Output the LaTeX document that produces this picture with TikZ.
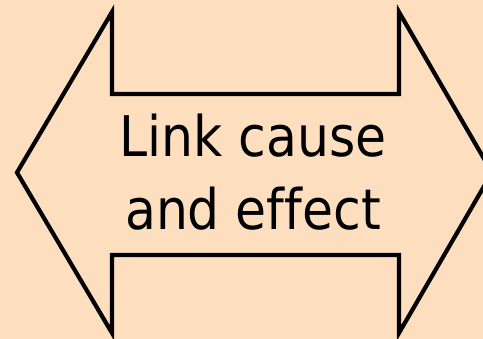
\documentclass[tikz,border=0pt]{standalone}
\usepackage{fontspec}
\setmainfont{DejaVu Sans Condensed}[Ligatures=NoCommon]
\definecolor{peach}{RGB}{253,223,192}
\begin{document}
\begin{tikzpicture}[x=1pt,y=-1pt,
  arrowshape/.style={draw=black,line width=4.2pt,line join=miter,fill=peach},
  label/.style={font=\fontsize{56}{60}\selectfont,anchor=base,inner sep=0pt}]
\fill[peach] (0,0) rectangle (483,339);
\useasboundingbox (0,0) rectangle (483,339);
\begin{scope}
\clip (0,0) rectangle (483,339);
\draw[arrowshape] (17,172.5) -- (112,12) -- (112,94) -- (399,94) -- (399,12)
  -- (492,172.5) -- (399,333) -- (399,255) -- (112,255) -- (112,333) -- cycle;
\end{scope}
\node[label] (l1) at (253,157) {Link cause};
\node[label] (l2) at (253,230) {and effect};
\end{tikzpicture}
\end{document}
